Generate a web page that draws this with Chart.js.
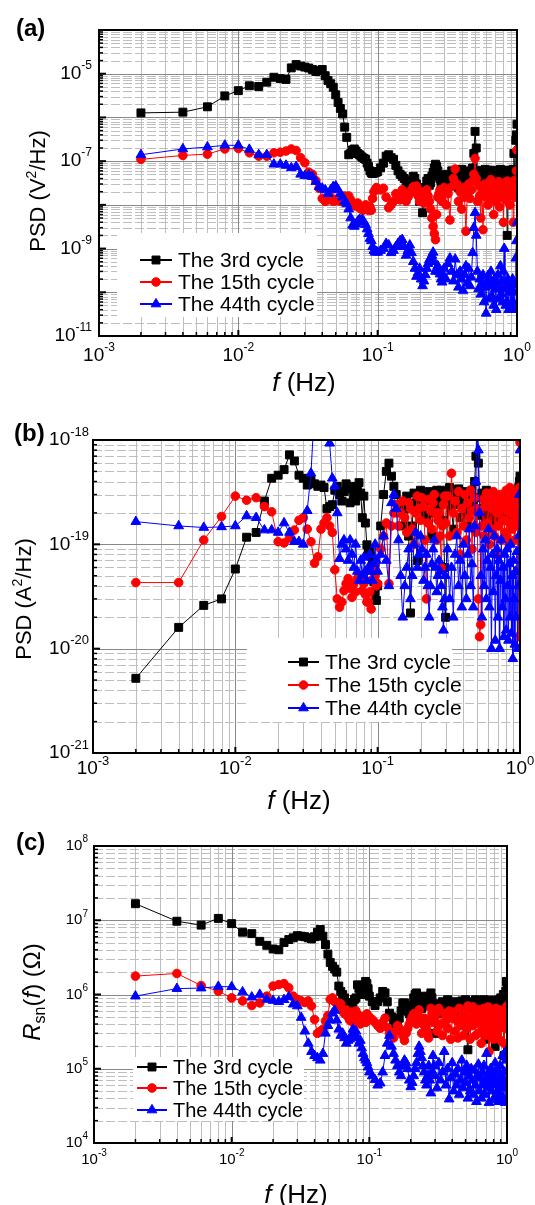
<!DOCTYPE html>
<html>
<head>
<meta charset="utf-8">
<script src="https://cdn.jsdelivr.net/npm/chart.js"></script>
<style>
  html, body { margin: 0; padding: 0; background: #fff; }
  body { position: relative; width: 535px; height: 1205px; overflow: hidden; }
  canvas { position: absolute; left: 0; top: 0; }
</style>
</head>
<body>
<canvas id="chartA" width="535" height="1205"></canvas>
<canvas id="chartB" width="535" height="1205"></canvas>
<canvas id="chartC" width="535" height="1205"></canvas>
<script>
// frequency points (Hz): 2 mHz steps up to 0.1 Hz, 5 mHz to 0.3 Hz, then 10 mHz
const freq = [
  0.002, 0.004, 0.006, 0.008, 0.010, 0.012, 0.014, 0.016, 0.018, 0.020,
  0.022, 0.024, 0.026, 0.028, 0.030, 0.032, 0.034, 0.036, 0.038, 0.040,
  0.042, 0.044, 0.046, 0.048, 0.050, 0.052, 0.054, 0.056, 0.058, 0.060,
  0.062, 0.064, 0.066, 0.068, 0.070, 0.072, 0.074, 0.076, 0.078, 0.080,
  0.082, 0.084, 0.086, 0.088, 0.090, 0.092, 0.094, 0.096, 0.098, 0.100,
  0.105, 0.110, 0.115, 0.120, 0.125, 0.130, 0.135, 0.140, 0.145, 0.150,
  0.155, 0.160, 0.165, 0.170, 0.175, 0.180, 0.185, 0.190, 0.195, 0.200,
  0.205, 0.210, 0.215, 0.220, 0.225, 0.230, 0.235, 0.240, 0.245, 0.250,
  0.255, 0.260, 0.265, 0.270, 0.275, 0.280, 0.285, 0.290, 0.295, 0.300,
  0.31, 0.32, 0.33, 0.34, 0.35, 0.36, 0.37, 0.38, 0.39, 0.40,
  0.41, 0.42, 0.43, 0.44, 0.45, 0.46, 0.47, 0.48, 0.49, 0.50,
  0.51, 0.52, 0.53, 0.54, 0.55, 0.56, 0.57, 0.58, 0.59, 0.60,
  0.61, 0.62, 0.63, 0.64, 0.65, 0.66, 0.67, 0.68, 0.69, 0.70,
  0.71, 0.72, 0.73, 0.74, 0.75, 0.76, 0.77, 0.78, 0.79, 0.80,
  0.81, 0.82, 0.83, 0.84, 0.85, 0.86, 0.87, 0.88, 0.89, 0.90,
  0.91, 0.92, 0.93, 0.94, 0.95, 0.96, 0.97, 0.98, 0.99, 1.00
];

const cycleNames = ["The 3rd cycle", "The 15th cycle", "The 44th cycle"];

// (a) voltage PSD, V^2/Hz
const psdV3 = [
  1.27e-6, 1.32e-6, 1.75e-6, 3.1e-6, 4.1e-6, 5.3e-6, 5.1e-6, 6.4e-6, 8.3e-6, 7.7e-6,
  7.4e-6, 1.36e-5, 1.62e-5, 1.5e-5, 1.42e-5, 1.35e-5, 1.25e-5, 1.12e-5, 1.18e-5, 1.25e-5,
  9.0e-6, 7.0e-6, 5.9e-6, 4.9e-6, 3.3e-6, 2.2e-6, 1.6e-6, 1.2e-6, 6.0e-7, 3.5e-7,
  1.4e-7, 1.5e-7, 1.8e-7, 1.9e-7, 1.7e-7, 1.5e-7, 1.4e-7, 1.3e-7, 1.2e-7, 1.15e-7,
  1.1e-7, 9.0e-8, 7.5e-8, 6.0e-8, 5.4e-8, 5.2e-8, 5.3e-8, 5.5e-8, 5.6e-8, 5.8e-8,
  7.0e-8, 9.0e-8, 1.3e-7, 1.4e-7, 1.2e-7, 1.1e-7, 8.0e-8, 6.0e-8, 5.0e-8, 4.5e-8,
  4.0e-8, 3.5e-8, 2.8e-8, 2.2e-8, 3.5e-8, 4.5e-8, 4.0e-8, 3.0e-8, 2.0e-8, 1.2e-8,
  2.0e-8, 6.6e-9, 1.5e-8, 2.5e-8, 3.5e-8, 4.0e-8, 2.8e-8, 3.2e-8, 4.5e-8, 5.5e-8,
  7.0e-8, 8.5e-8, 7.5e-8, 6.0e-8, 4.5e-8, 3.9e-8, 3.0e-8, 2.5e-8, 3.5e-8, 4.2e-8,
  5.0e-8, 3.0e-8, 4.5e-8, 6.0e-8, 3.5e-8, 5.5e-8, 4.0e-8, 2.5e-8, 5.0e-8, 6.5e-8,
  3.5e-8, 4.8e-8, 5.5e-8, 3.0e-8, 6.0e-8, 4.0e-8, 5.0e-8, 7.0e-8, 1.5e-7, 4.8e-7,
  2.0e-7, 6.0e-8, 4.5e-8, 5.5e-8, 3.5e-8, 6.0e-8, 4.5e-8, 5.0e-8, 6.5e-8, 4.0e-8,
  5.5e-8, 6.0e-8, 3.8e-8, 5.0e-8, 6.2e-8, 4.5e-8, 5.5e-8, 3.0e-8, 6.0e-8, 5.0e-8,
  4.2e-8, 5.8e-8, 6.0e-8, 3.5e-8, 5.0e-8, 6.5e-8, 4.5e-8, 5.5e-8, 3.0e-8, 6.0e-8,
  5.0e-8, 4.0e-8, 5.8e-8, 6.2e-8, 2.0e-9, 4.5e-8, 5.5e-8, 6.0e-8, 4.0e-8, 5.0e-8,
  6.0e-8, 5.5e-8, 4.5e-8, 6.5e-8, 1.5e-7, 6.0e-8, 5.0e-8, 3.0e-7, 4.0e-7, 7.0e-7
];
const psdV15 = [
  1.1e-7, 1.35e-7, 1.45e-7, 1.9e-7, 1.95e-7, 1.55e-7, 1.3e-7, 1.3e-7, 1.55e-7, 1.6e-7,
  1.7e-7, 1.9e-7, 1.75e-7, 1.2e-7, 9.2e-8, 5.6e-8, 5.0e-8, 3.6e-8, 2.4e-8, 1.4e-8,
  1.2e-8, 1.3e-8, 1.5e-8, 1.2e-8, 1.25e-8, 1.4e-8, 1.2e-8, 1.4e-8, 1.6e-8, 1.5e-8,
  1.6e-8, 1.3e-8, 1.1e-8, 9.5e-9, 9.5e-9, 1.1e-8, 8.5e-9, 9.0e-9, 7.5e-9, 8.5e-9,
  1.0e-8, 8.0e-9, 7.5e-9, 9.0e-9, 7.5e-9, 1.4e-8, 2.0e-8, 2.2e-8, 2.5e-8, 2.3e-8,
  2.2e-8, 2.4e-8, 1.5e-8, 8.6e-9, 1.0e-8, 1.2e-8, 1.8e-8, 1.6e-8, 1.3e-8, 2.2e-8,
  1.8e-8, 1.2e-8, 1.5e-8, 1.8e-8, 2.2e-8, 2.6e-8, 2.0e-8, 2.7e-8, 1.6e-8, 1.2e-8,
  1.8e-8, 2.0e-8, 1.1e-8, 1.5e-8, 2.2e-8, 1.6e-8, 1.2e-8, 8.0e-9, 5.0e-9, 3.2e-9,
  2.2e-9, 1.6e-9, 6.0e-9, 1.5e-8, 1.8e-8, 2.2e-8, 1.5e-8, 1.2e-8, 1.9e-8, 2.5e-8,
  1.0e-8, 1.8e-8, 4.5e-9, 2.6e-8, 4.0e-8, 6.6e-8, 3.0e-8, 1.2e-8, 2.0e-8, 8.0e-9,
  2.5e-8, 1.5e-8, 2.5e-9, 1.8e-8, 3.0e-8, 1.4e-8, 2.2e-8, 3.5e-8, 5.0e-8, 1.15e-7,
  4.0e-8, 1.2e-8, 2.8e-8, 1.6e-8, 5.0e-9, 2.4e-8, 2.7e-9, 1.8e-8, 3.0e-8, 1.5e-8,
  2.5e-8, 1.0e-8, 3.2e-8, 2.0e-8, 3.8e-8, 1.4e-8, 2.6e-8, 6.0e-9, 2.2e-8, 3.0e-8,
  1.2e-8, 2.8e-8, 1.8e-8, 3.4e-8, 9.0e-9, 2.4e-8, 3.0e-8, 1.5e-8, 2.6e-8, 4.0e-9,
  2.0e-8, 3.2e-8, 1.3e-8, 2.5e-8, 3.5e-8, 1.6e-8, 2.8e-8, 2.2e-8, 1.0e-8, 2.9e-8,
  1.8e-8, 3.3e-8, 2.3e-8, 4.0e-9, 2.6e-8, 3.6e-8, 1.5e-8, 3.0e-8, 6.0e-8, 1.8e-7
];
const psdV44 = [
  1.4e-7, 1.9e-7, 2.1e-7, 2.3e-7, 2.3e-7, 1.85e-7, 1.4e-7, 1.4e-7, 8.5e-8, 8.5e-8,
  8.0e-8, 7.0e-8, 7.5e-8, 5.0e-8, 4.6e-8, 4.8e-8, 4.4e-8, 3.4e-8, 2.6e-8, 2.4e-8,
  2.2e-8, 1.8e-8, 2.2e-8, 2.6e-8, 2.7e-8, 2.2e-8, 1.8e-8, 1.5e-8, 1.2e-8, 1.05e-8,
  8.0e-9, 5.0e-9, 3.4e-9, 3.2e-9, 3.6e-9, 4.2e-9, 4.6e-9, 4.4e-9, 4.5e-9, 4.0e-9,
  3.5e-9, 2.8e-9, 2.2e-9, 1.7e-9, 1.5e-9, 1.1e-9, 9.0e-10, 8.2e-10, 8.5e-10, 8.2e-10,
  9.0e-10, 1.0e-9, 1.3e-9, 1.2e-9, 8.0e-10, 9.0e-10, 1.1e-9, 1.3e-9, 1.5e-9, 1.6e-9,
  1.1e-9, 7.0e-10, 9.0e-10, 1.2e-9, 8.0e-10, 5.0e-10, 3.5e-10, 2.3e-10, 2.8e-10, 3.5e-10,
  2.0e-10, 1.4e-10, 1.8e-10, 2.5e-10, 3.5e-10, 4.5e-10, 5.5e-10, 6.0e-10, 7.0e-10, 8.2e-10,
  5.0e-10, 3.0e-10, 3.5e-10, 4.0e-10, 3.0e-10, 2.6e-10, 2.0e-10, 1.7e-10, 2.5e-10, 3.5e-10,
  2.0e-10, 4.5e-10, 6.0e-10, 3.0e-10, 1.8e-10, 5.7e-10, 2.5e-10, 1.3e-10, 3.0e-10, 2.0e-10,
  1.1e-10, 2.5e-10, 4.0e-10, 1.6e-10, 3.5e-10, 1.4e-10, 2.2e-10, 8.0e-10, 3.0e-9, 6.6e-9,
  2.0e-9, 3.0e-10, 1.2e-10, 2.0e-10, 9.0e-11, 1.6e-10, 2.5e-10, 6.0e-11, 1.3e-10, 3.3e-11,
  1.8e-10, 2.4e-10, 7.0e-11, 1.4e-10, 3.0e-10, 8.0e-11, 1.6e-10, 5.0e-11, 2.0e-10, 1.2e-10,
  4.0e-11, 1.5e-10, 2.5e-10, 7.0e-11, 1.3e-10, 4.0e-10, 9.0e-11, 1.8e-10, 6.0e-11, 3.0e-10,
  1.0e-9, 1.2e-10, 5.0e-11, 1.5e-10, 6.0e-11, 2.0e-10, 4.0e-11, 1.0e-10, 1.6e-10, 5.0e-11,
  1.2e-10, 4.5e-11, 2.0e-10, 6.0e-11, 1.0e-10, 4.0e-11, 1.5e-10, 6.0e-10, 1.5e-9, 4.0e-9
];

// (b) current PSD, A^2/Hz
const psdA3 = [
  5.2e-21, 1.6e-20, 2.6e-20, 3.0e-20, 5.8e-20, 1.17e-19, 1.3e-19, 2.6e-19, 4.3e-19, 4.6e-19,
  5.2e-19, 7.2e-19, 6.3e-19, 4.6e-19, 4.3e-19, 3.7e-19, 4.1e-19, 3.8e-19, 3.6e-19, 3.7e-19,
  3.5e-19, 2.2e-19, 2.3e-19, 2.4e-19, 3.3e-19, 3.6e-19, 3.0e-19, 2.6e-19, 3.2e-19, 3.8e-19,
  3.4e-19, 2.5e-19, 3.6e-19, 3.0e-19, 2.6e-19, 3.5e-19, 3.9e-19, 3.1e-19, 1.8e-19, 2.9e-19,
  1.6e-19, 9.9e-20, 8.5e-20, 9.0e-20, 7.7e-20, 6.5e-20, 4.4e-20, 3.5e-20, 2.9e-20, 4.0e-20,
  1.5e-19, 3.0e-19, 5.0e-19, 6.0e-19, 4.5e-19, 3.6e-19, 3.0e-19, 2.4e-19, 2.0e-19, 1.5e-19,
  2.2e-19, 2.9e-19, 1.2e-19, 2.2e-20, 1.5e-19, 3.1e-19, 2.5e-19, 7.0e-20, 2.2e-19, 3.3e-19,
  2.9e-19, 2.5e-19, 2.0e-19, 1.8e-19, 2.6e-19, 3.2e-19, 2.0e-19, 1.2e-19, 2.0e-19, 2.8e-19,
  3.0e-19, 3.3e-19, 2.4e-19, 1.9e-19, 2.8e-19, 3.3e-19, 2.5e-19, 1.7e-19, 6.0e-20, 2.0e-20,
  2.6e-19, 3.5e-19, 2.2e-19, 1.4e-19, 3.1e-19, 2.4e-19, 3.4e-19, 1.8e-19, 2.7e-19, 3.2e-19,
  2.0e-19, 2.9e-19, 1.5e-19, 3.0e-19, 2.3e-19, 3.3e-19, 2.6e-19, 4.0e-19, 7.0e-19, 1.5e-18,
  6.0e-19, 2.8e-19, 1.9e-19, 3.1e-19, 2.2e-19, 2.9e-19, 1.7e-19, 3.3e-19, 2.5e-19, 2.0e-19,
  3.0e-19, 2.4e-19, 1.6e-19, 2.8e-19, 2.2e-19, 2.6e-19, 1.9e-19, 2.5e-19, 2.1e-19, 2.7e-19,
  1.8e-19, 2.4e-19, 2.2e-19, 2.6e-19, 1.7e-19, 2.3e-19, 2.5e-19, 1.9e-19, 2.4e-19, 2.0e-19,
  2.6e-19, 1.8e-19, 2.3e-19, 2.1e-19, 2.5e-19, 1.7e-19, 2.2e-19, 2.4e-19, 1.9e-19, 2.6e-19,
  2.1e-19, 1.8e-19, 2.3e-19, 2.5e-19, 2.0e-19, 2.2e-19, 2.8e-19, 3.5e-19, 4.0e-19, 4.5e-19
];
const psdA15 = [
  4.3e-20, 4.3e-20, 1.1e-19, 1.85e-19, 2.9e-19, 2.65e-19, 2.8e-19, 2.3e-19, 2.05e-19, 1.06e-19,
  1.03e-19, 1.15e-19, 1.37e-19, 1.7e-19, 1.8e-19, 1.4e-19, 1.06e-19, 6.6e-20, 7.6e-20, 1.4e-19,
  1.6e-19, 1.8e-19, 1.5e-19, 1.3e-19, 5.7e-20, 3.0e-20, 2.5e-20, 2.8e-20, 3.6e-20, 4.2e-20,
  4.7e-20, 3.8e-20, 3.1e-20, 4.2e-20, 3.5e-20, 4.7e-20, 5.0e-20, 4.9e-20, 3.6e-20, 4.2e-20,
  3.3e-20, 2.8e-20, 2.8e-20, 3.5e-20, 2.4e-20, 4.6e-20, 6.1e-20, 5.0e-20, 4.0e-20, 4.2e-20,
  9.0e-20, 1.2e-19, 1.6e-19, 4.2e-20, 1.5e-19, 2.0e-19, 2.4e-19, 1.5e-19, 2.0e-19, 2.6e-19,
  1.8e-19, 1.3e-19, 2.5e-19, 2.2e-19, 1.4e-19, 1.0e-19, 2.0e-19, 2.9e-19, 2.2e-19, 1.7e-19,
  2.8e-19, 2.3e-19, 1.1e-19, 3.0e-20, 1.6e-19, 2.7e-19, 2.1e-19, 1.4e-19, 2.5e-19, 3.0e-19,
  2.0e-19, 1.1e-19, 1.7e-19, 2.0e-19, 1.2e-19, 6.0e-20, 1.5e-19, 2.4e-19, 2.9e-19, 1.6e-19,
  2.9e-19, 1.2e-19, 4.8e-19, 2.0e-19, 2.6e-19, 1.3e-19, 3.2e-19, 8.0e-20, 2.2e-19, 1.5e-19,
  3.0e-19, 1.1e-19, 2.5e-19, 1.8e-19, 3.3e-19, 9.0e-20, 2.1e-19, 2.8e-19, 1.3e-19, 2.2e-19,
  3.0e-20, 1.3e-20, 1.7e-20, 1.5e-19, 2.7e-19, 1.2e-19, 2.3e-19, 3.1e-19, 1.6e-19, 2.5e-19,
  1.0e-19, 2.9e-19, 1.4e-19, 2.2e-19, 3.2e-19, 1.2e-19, 2.6e-19, 8.0e-20, 2.0e-19, 2.8e-19,
  1.5e-19, 2.4e-19, 3.0e-19, 1.1e-19, 2.3e-19, 1.7e-19, 2.9e-19, 1.3e-19, 2.5e-19, 3.3e-19,
  1.2e-19, 2.1e-19, 2.7e-19, 1.0e-19, 3.5e-19, 1.6e-19, 2.4e-19, 1.4e-19, 3.1e-19, 1.9e-19,
  2.6e-19, 1.1e-19, 2.3e-19, 3.0e-19, 1.5e-19, 2.2e-19, 1.3e-20, 1.8e-19, 3.5e-19, 9.5e-19
];
const psdA44 = [
  1.65e-19, 1.5e-19, 1.45e-19, 1.47e-19, 1.5e-19, 1.87e-19, 1.8e-19, 1.37e-19, 1.37e-19, 1.3e-19,
  1.6e-19, 1.3e-19, 1.06e-19, 1.06e-19, 1.0e-19, 2.1e-19, 4.8e-19, 2.0e-18, 3.0e-18, 2.5e-18,
  2.0e-18, 1.5e-18, 9.3e-19, 4.3e-19, 3.6e-19, 2.0e-19, 7.3e-20, 1.0e-19, 1.1e-19, 9.0e-20,
  7.0e-20, 1.1e-19, 8.0e-20, 6.0e-20, 1.0e-19, 5.5e-20, 4.5e-20, 7.0e-20, 5.0e-20, 7.5e-20,
  5.5e-20, 4.5e-20, 6.0e-20, 8.0e-20, 5.5e-20, 4.5e-20, 6.5e-20, 1.0e-19, 7.0e-20, 5.5e-20,
  8.0e-20, 1.2e-19, 7.0e-20, 4.0e-20, 2.5e-19, 3.0e-19, 2.2e-19, 1.1e-19, 5.0e-20, 2.0e-20,
  4.0e-20, 6.0e-20, 9.0e-20, 3.0e-20, 5.0e-20, 1.0e-19, 1.3e-19, 6.0e-20, 8.0e-20, 1.2e-19,
  9.0e-20, 4.5e-20, 6.0e-20, 8.0e-20, 4.0e-20, 2.0e-20, 4.0e-20, 6.5e-20, 9.0e-20, 1.1e-19,
  6.0e-20, 3.5e-20, 5.0e-20, 7.0e-20, 5.5e-20, 4.0e-20, 2.5e-20, 1.5e-20, 3.0e-20, 5.0e-20,
  9.0e-20, 3.0e-20, 6.0e-20, 2.0e-20, 8.0e-20, 1.2e-19, 4.0e-20, 7.0e-20, 2.5e-20, 1.0e-19,
  5.0e-20, 3.0e-20, 8.0e-20, 1.4e-19, 4.0e-20, 6.5e-20, 2.5e-20, 1.5e-19, 4.0e-19, 1.5e-18,
  8.0e-19, 2.0e-19, 5.0e-20, 2.0e-20, 9.0e-20, 4.0e-20, 1.1e-19, 3.0e-20, 7.0e-20, 1.4e-19,
  2.5e-20, 6.0e-20, 1.0e-20, 8.0e-20, 3.5e-20, 1.2e-19, 1.2e-20, 5.0e-20, 9.0e-20, 2.0e-20,
  7.0e-20, 1.0e-20, 4.5e-20, 1.1e-19, 2.5e-20, 6.0e-20, 1.3e-20, 8.0e-20, 3.0e-20, 1.5e-20,
  9.0e-20, 4.0e-20, 1.2e-20, 6.5e-20, 2.0e-20, 1.0e-19, 1.4e-20, 5.0e-20, 8.0e-21, 7.0e-20,
  3.0e-20, 1.1e-20, 5.5e-20, 2.0e-20, 8.5e-20, 1.0e-20, 4.0e-20, 1.2e-19, 3.0e-19, 8.0e-19
];

// (c) noise resistance Rsn(f), ohm
const rsn3 = [
  1.67e7, 9.7e6, 8.6e6, 1.06e7, 9.0e6, 6.9e6, 6.6e6, 5.2e6, 4.6e6, 4.1e6,
  4.0e6, 5.0e6, 5.5e6, 5.8e6, 6.2e6, 6.1e6, 6.0e6, 5.8e6, 5.6e6, 6.0e6,
  6.9e6, 7.5e6, 6.1e6, 4.7e6, 3.5e6, 2.7e6, 2.4e6, 2.2e6, 2.0e6, 1.3e6,
  1.1e6, 1.0e6, 9.0e5, 7.8e5, 7.0e5, 6.5e5, 7.0e5, 7.5e5, 8.6e5, 9.0e5,
  1.35e6, 1.2e6, 1.1e6, 1.0e6, 1.1e6, 1.3e6, 1.5e6, 1.4e6, 1.2e6, 9.5e5,
  8.0e5, 7.1e5, 8.0e5, 9.0e5, 1.1e6, 1.05e6, 8.0e5, 5.6e5, 5.0e5, 4.5e5,
  4.0e5, 3.7e5, 4.8e5, 6.0e5, 7.7e5, 7.7e5, 7.0e5, 6.0e5, 5.5e5, 4.8e5,
  7.0e5, 9.0e5, 1.0e6, 1.05e6, 9.0e5, 8.0e5, 7.0e5, 6.5e5, 8.0e5, 9.5e5,
  8.0e5, 7.0e5, 7.5e5, 8.5e5, 9.5e5, 1.05e6, 9.0e5, 7.5e5, 5.0e5, 3.0e5,
  6.5e5, 7.5e5, 5.5e5, 8.0e5, 7.0e5, 6.0e5, 8.5e5, 5.0e5, 7.2e5, 6.5e5,
  8.0e5, 5.5e5, 7.0e5, 7.8e5, 4.5e5, 6.8e5, 8.2e5, 6.0e5, 7.5e5, 8.5e5,
  5.0e5, 1.8e5, 6.5e5, 7.8e5, 6.0e5, 8.0e5, 5.5e5, 7.0e5, 8.5e5, 6.2e5,
  4.8e5, 7.5e5, 8.2e5, 6.0e5, 7.0e5, 5.0e5, 7.8e5, 8.5e5, 6.5e5, 2.5e5,
  7.0e5, 8.0e5, 5.8e5, 7.5e5, 8.4e5, 6.2e5, 4.5e5, 7.6e5, 8.3e5, 6.0e5,
  7.2e5, 2.0e5, 6.8e5, 8.0e5, 7.0e5, 5.5e5, 8.5e5, 7.5e5, 6.5e5, 9.0e5,
  7.0e5, 8.0e5, 6.0e5, 1.0e6, 1.5e5, 7.8e5, 9.0e5, 1.1e6, 1.5e6, 1.3e6
];
const rsn15 = [
  1.77e6, 1.92e6, 1.32e6, 1.11e6, 9.0e5, 8.2e5, 7.1e5, 7.7e5, 9.5e5, 1.3e6,
  1.36e6, 1.4e6, 1.23e6, 9.5e5, 8.6e5, 8.2e5, 7.8e5, 8.2e5, 7.0e5, 4.6e5,
  3.0e5, 3.2e5, 3.4e5, 4.4e5, 5.2e5, 8.6e5, 9.0e5, 8.0e5, 7.8e5, 6.5e5,
  7.5e5, 6.0e5, 5.5e5, 6.2e5, 5.0e5, 4.5e5, 5.8e5, 4.2e5, 5.0e5, 6.0e5,
  4.6e5, 5.2e5, 4.0e5, 4.4e5, 5.0e5, 4.8e5, 4.2e5, 5.5e5, 4.5e5, 5.0e5,
  4.6e5, 4.2e5, 3.8e5, 3.5e5, 4.2e5, 4.8e5, 3.6e5, 3.0e5, 2.8e5, 2.6e5,
  3.2e5, 3.8e5, 3.5e5, 3.2e5, 2.8e5, 2.4e5, 3.0e5, 3.5e5, 4.0e5, 4.5e5,
  5.0e5, 5.5e5, 4.5e5, 4.0e5, 5.5e5, 6.2e5, 4.5e5, 3.0e5, 4.0e5, 4.8e5,
  4.0e5, 3.5e5, 3.0e5, 2.6e5, 4.5e5, 6.5e5, 5.5e5, 4.2e5, 4.8e5, 5.5e5,
  3.2e5, 6.5e5, 4.0e5, 2.8e5, 5.5e5, 4.5e5, 3.5e5, 6.0e5, 2.5e5, 4.8e5,
  5.8e5, 3.2e5, 4.5e5, 2.6e5, 6.5e5, 3.8e5, 5.0e5, 2.8e5, 4.2e5, 6.0e5,
  3.5e5, 7.0e5, 4.5e5, 2.5e5, 5.2e5, 3.8e5, 6.8e5, 4.0e5, 2.8e5, 5.5e5,
  4.2e5, 3.0e5, 6.2e5, 4.5e5, 2.2e5, 5.0e5, 3.6e5, 6.5e5, 4.0e5, 2.8e5,
  5.5e5, 3.4e5, 6.8e5, 1.7e5, 4.6e5, 5.8e5, 3.0e5, 6.0e5, 4.0e5, 2.5e5,
  5.2e5, 3.6e5, 6.5e5, 4.2e5, 2.8e5, 5.5e5, 3.4e5, 6.2e5, 4.5e5, 2.4e5,
  5.8e5, 3.8e5, 6.0e5, 4.0e5, 2.2e5, 5.5e5, 3.5e5, 6.5e5, 4.5e5, 7.0e5
];
const rsn44 = [
  9.5e5, 1.2e6, 1.22e6, 1.28e6, 1.27e6, 1.08e6, 9.2e5, 1.0e6, 8.6e5, 8.3e5,
  8.0e5, 8.5e5, 9.3e5, 7.4e5, 7.0e5, 4.9e5, 3.2e5, 2.2e5, 1.7e5, 1.5e5,
  1.4e5, 1.3e5, 1.6e5, 3.0e5, 3.8e5, 4.5e5, 5.6e5, 6.1e5, 4.5e5, 3.4e5,
  2.8e5, 3.0e5, 2.6e5, 2.2e5, 2.4e5, 2.5e5, 2.8e5, 3.4e5, 3.0e5, 3.2e5,
  2.6e5, 2.2e5, 2.4e5, 1.9e5, 1.6e5, 1.4e5, 1.3e5, 1.2e5, 1.05e5, 9.0e4,
  8.0e4, 7.1e4, 6.0e4, 6.4e4, 9.0e4, 1.5e5, 2.2e5, 2.8e5, 2.0e5, 1.6e5,
  1.3e5, 1.1e5, 9.0e4, 8.0e4, 1.1e5, 1.3e5, 1.2e5, 1.0e5, 7.0e4, 5.7e4,
  6.5e4, 8.0e4, 1.0e5, 1.2e5, 1.6e5, 2.0e5, 1.7e5, 1.4e5, 1.1e5, 9.0e4,
  7.0e4, 6.0e4, 8.0e4, 1.1e5, 7.0e4, 4.7e4, 9.0e4, 1.5e5, 1.1e5, 8.0e4,
  5.5e4, 1.2e5, 7.0e4, 9.0e4, 1.7e5, 6.0e4, 1.0e5, 3.9e4, 7.5e4, 1.2e5,
  5.0e4, 8.5e4, 6.0e4, 1.0e5, 4.5e4, 7.0e4, 1.3e5, 5.5e4, 9.0e4, 6.5e4,
  1.1e5, 4.0e4, 8.0e4, 5.0e4, 1.0e5, 7.0e4, 4.5e4, 9.5e4, 6.0e4, 3.6e4,
  8.0e4, 1.15e5, 5.0e4, 7.5e4, 4.0e4, 9.0e4, 6.0e4, 1.1e5, 4.5e4, 7.0e4,
  1.6e5, 5.5e4, 8.5e4, 3.5e4, 6.5e4, 1.0e5, 5.0e4, 7.5e4, 3.8e4, 9.0e4,
  6.0e4, 1.2e5, 4.2e4, 7.0e4, 5.0e4, 9.5e4, 3.6e4, 6.5e4, 1.1e5, 4.5e4,
  8.0e4, 5.5e4, 1.5e5, 4.0e4, 7.0e4, 9.0e4, 3.5e4, 6.0e4, 1.3e5, 1.8e5
];

// tick label exponents (10^n)
const xTickExps = [-3, -2, -1, 0];
const yTickExpsA = [-11, -9, -7, -5];
const yTickExpsB = [-21, -20, -19, -18];
const yTickExpsC = [4, 5, 6, 7, 8];

const FONT = '"Liberation Sans", Arial, Helvetica, sans-serif';
const colors = ["#000000", "#ff0000", "#0000ff"];
const markers = ["rect", "circle", "triangle"];
const radii = [5.6, 4.3, 5.6];

// 1..9 x 10^n ticks so every grid line of the log axes exists
function decadeTicks(min, max) {
  const out = [];
  const e0 = Math.floor(Math.log10(min) + 1e-9);
  const e1 = Math.ceil(Math.log10(max) - 1e-9);
  for (let e = e0; e <= e1; e++) {
    for (let m = 1; m <= 9; m++) {
      const v = parseFloat(m + "e" + e);
      if (v >= min * 0.999999 && v <= max * 1.000001) out.push({ value: v, major: m === 1 });
    }
  }
  return out;
}

function drawMarker(ctx, style, x, y, r, color) {
  ctx.fillStyle = color;
  ctx.strokeStyle = color;
  ctx.lineWidth = 1;
  ctx.setLineDash([]);
  ctx.beginPath();
  if (style === "rect") {
    const s = r * Math.SQRT1_2;
    ctx.rect(x - s, y - s, 2 * s, 2 * s);
  } else if (style === "triangle") {
    ctx.moveTo(x, y - r);
    ctx.lineTo(x + r * 0.866, y + r / 2);
    ctx.lineTo(x - r * 0.866, y + r / 2);
    ctx.closePath();
  } else {
    ctx.arc(x, y, r, 0, Math.PI * 2);
  }
  ctx.fill();
  ctx.stroke();
}

// text made of pieces (italic, super/subscript), centred at cx, cy
function drawRich(ctx, parts, cx, cy, size, rotate) {
  ctx.save();
  ctx.translate(cx, cy);
  if (rotate) ctx.rotate(-Math.PI / 2);
  ctx.fillStyle = "#000";
  ctx.textAlign = "left";
  ctx.textBaseline = "alphabetic";
  const fontOf = p => (p.italic ? "italic " : "") + Math.round(size * (p.scale || 1)) + "px " + FONT;
  let total = 0;
  const widths = parts.map(p => { ctx.font = fontOf(p); const w = ctx.measureText(p.text).width; total += w; return w; });
  let x = -total / 2;
  parts.forEach((p, i) => {
    ctx.font = fontOf(p);
    ctx.fillText(p.text, x, size * 0.36 + (p.dy || 0) * size);
    x += widths[i];
  });
  ctx.restore();
}

function drawPow(ctx, exp, x, y, align, baseSize, supSize) {
  ctx.font = baseSize + "px " + FONT;
  const wb = ctx.measureText("10").width;
  ctx.font = supSize + "px " + FONT;
  const ws = ctx.measureText(String(exp)).width;
  const left = align === "right" ? x - wb - ws : x - (wb + ws) / 2;
  ctx.textAlign = "left";
  ctx.textBaseline = "middle";
  ctx.fillStyle = "#000";
  ctx.font = baseSize + "px " + FONT;
  ctx.fillText("10", left, y);
  ctx.font = supSize + "px " + FONT;
  ctx.fillText(String(exp), left + wb, y - baseSize * 0.42);
}

function panelPlugin(p) {
  return {
    id: "panelDecor",
    beforeDatasetsDraw(chart) {
      const { ctx, chartArea: a } = chart;
      const sx = chart.scales.x, sy = chart.scales.y;
      ctx.save();
      ctx.lineWidth = 1;
      [false, true].forEach(major => {
        ctx.strokeStyle = major ? "#888888" : "#bebebe";
        ctx.setLineDash([]);
        sx.ticks.filter(t => t.major === major).forEach(t => {
          const px = Math.round(sx.getPixelForValue(t.value)) + 0.5;
          if (px < a.left + 1 || px > a.right - 1) return;
          ctx.beginPath(); ctx.moveTo(px, a.top); ctx.lineTo(px, a.bottom); ctx.stroke();
        });
        ctx.setLineDash(major ? [] : [9, 3]);
        sy.ticks.filter(t => t.major === major).forEach(t => {
          const py = Math.round(sy.getPixelForValue(t.value)) + 0.5;
          if (py < a.top + 1 || py > a.bottom - 1) return;
          ctx.beginPath(); ctx.moveTo(a.left, py); ctx.lineTo(a.right, py); ctx.stroke();
        });
      });
      ctx.setLineDash([]);

      // legend
      const lg = p.legend;
      ctx.fillStyle = "#fff";
      ctx.fillRect(lg.box[0], lg.box[1], lg.box[2] - lg.box[0], lg.box[3] - lg.box[1]);
      chart.data.datasets.forEach((ds, i) => {
        const y = lg.rows[i];
        ctx.strokeStyle = ds.borderColor;
        ctx.lineWidth = 2;
        ctx.beginPath(); ctx.moveTo(lg.line[0], y); ctx.lineTo(lg.line[1], y); ctx.stroke();
        drawMarker(ctx, ds.pointStyle, (lg.line[0] + lg.line[1]) / 2, y, ds.pointRadius, ds.borderColor);
        ctx.fillStyle = "#000";
        ctx.font = lg.size + "px " + FONT;
        ctx.textAlign = "left";
        ctx.textBaseline = "middle";
        ctx.fillText(ds.label, lg.textX, y + 1);
      });
      ctx.restore();
    },
    afterDraw(chart) {
      const { ctx, chartArea: a } = chart;
      const sx = chart.scales.x, sy = chart.scales.y;
      ctx.save();
      ctx.strokeStyle = "#000";
      ctx.setLineDash([]);
      // inward tick marks on left and bottom axes
      sy.ticks.forEach(t => {
        const py = sy.getPixelForValue(t.value);
        ctx.lineWidth = t.major ? 2 : 1.5;
        ctx.beginPath(); ctx.moveTo(a.left, py); ctx.lineTo(a.left + (t.major ? 7 : 4), py); ctx.stroke();
      });
      sx.ticks.forEach(t => {
        const px = sx.getPixelForValue(t.value);
        ctx.lineWidth = t.major ? 2 : 1.5;
        ctx.beginPath(); ctx.moveTo(px, a.bottom); ctx.lineTo(px, a.bottom - (t.major ? 6 : 4)); ctx.stroke();
      });
      // frame
      ctx.lineWidth = 2;
      ctx.strokeRect(a.left, a.top, a.right - a.left, a.bottom - a.top);

      // tick labels
      p.yLabels.forEach(e => {
        drawPow(ctx, e, a.left - p.yLabelGap, sy.getPixelForValue(parseFloat("1e" + e)), "right", p.tickSize, p.supSize);
      });
      xTickExps.forEach(e => {
        drawPow(ctx, e, sx.getPixelForValue(parseFloat("1e" + e)), a.bottom + p.xLabelDy, "center", p.tickSize, p.supSize);
      });

      // axis titles
      drawRich(ctx, p.yTitle.parts, p.yTitle.x, p.yTitle.y, p.yTitle.size, true);
      drawRich(ctx, [{ text: "f", italic: true }, { text: " (Hz)" }], p.xTitle.x, p.xTitle.y, p.xTitle.size, false);

      // panel tag
      ctx.fillStyle = "#000";
      ctx.font = "bold 24px " + FONT;
      ctx.textAlign = "left";
      ctx.textBaseline = "middle";
      ctx.fillText(p.tag.text, p.tag.x, p.tag.y);
      ctx.restore();
    }
  };
}

const panels = [
  {
    id: "chartA", series: [psdV3, psdV15, psdV44], yMin: 1e-11, yMax: 1e-4, yLabels: yTickExpsA,
    padding: { left: 99, right: 18, top: 30, bottom: 869 },
    tickSize: 19, supSize: 12, yLabelGap: 7, xLabelDy: 20,
    tag: { text: "(a)", x: 16, y: 29 },
    yTitle: { parts: [{ text: "PSD (V" }, { text: "2", scale: 0.62, dy: -0.42 }, { text: "/Hz)" }], x: 37, y: 191, size: 22 },
    xTitle: { x: 304, y: 382, size: 26 },
    legend: { box: [117, 233, 317, 317], rows: [260, 282, 304], line: [140, 172], textX: 178, size: 21 }
  },
  {
    id: "chartB", series: [psdA3, psdA15, psdA44], yMin: 1e-21, yMax: 1e-18, yLabels: yTickExpsB,
    padding: { left: 93, right: 15, top: 440, bottom: 452 },
    tickSize: 19, supSize: 13, yLabelGap: 4, xLabelDy: 16,
    tag: { text: "(b)", x: 14, y: 434 },
    yTitle: { parts: [{ text: "PSD (A" }, { text: "2", scale: 0.62, dy: -0.42 }, { text: "/Hz)" }], x: 23, y: 599, size: 22 },
    xTitle: { x: 299, y: 800, size: 26 },
    legend: { box: [247, 638, 452, 722], rows: [662, 685, 708], line: [288, 319], textX: 325, size: 21 }
  },
  {
    id: "chartC", series: [rsn3, rsn15, rsn44], yMin: 1e4, yMax: 1e8, yLabels: yTickExpsC,
    padding: { left: 94, right: 28, top: 846, bottom: 62 },
    tickSize: 15, supSize: 10, yLabelGap: 6, xLabelDy: 17,
    tag: { text: "(c)", x: 16, y: 843 },
    yTitle: { parts: [{ text: "R", italic: true }, { text: "sn", scale: 0.68, dy: 0.22 }, { text: "(" }, { text: "f", italic: true }, { text: ") (\u03a9)" }], x: 31, y: 992, size: 24 },
    xTitle: { x: 296, y: 1194, size: 26 },
    legend: { box: [133, 1057, 304, 1121], rows: [1067, 1088, 1110], line: [137, 167], textX: 173, size: 20 }
  }
];

panels.forEach(p => {
  new Chart(document.getElementById(p.id), {
    type: "line",
    data: {
      datasets: p.series.map((ys, i) => ({
        label: cycleNames[i],
        data: freq.map((f, k) => ({ x: f, y: ys[k] })),
        borderColor: colors[i],
        backgroundColor: colors[i],
        pointBackgroundColor: colors[i],
        pointBorderColor: colors[i],
        pointStyle: markers[i],
        pointRadius: radii[i],
        pointBorderWidth: 1,
        borderWidth: 1,
        tension: 0,
        fill: false,
        order: 3 - i
      }))
    },
    options: {
      responsive: false,
      devicePixelRatio: 1,
      animation: false,
      events: [],
      layout: { padding: p.padding },
      scales: {
        x: {
          type: "logarithmic", min: 1e-3, max: 1,
          grid: { display: false, drawTicks: false },
          border: { display: false },
          ticks: { display: false },
          afterBuildTicks: axis => { axis.ticks = decadeTicks(axis.min, axis.max); }
        },
        y: {
          type: "logarithmic", min: p.yMin, max: p.yMax,
          grid: { display: false, drawTicks: false },
          border: { display: false },
          ticks: { display: false },
          afterBuildTicks: axis => { axis.ticks = decadeTicks(axis.min, axis.max); }
        }
      },
      plugins: { legend: { display: false }, tooltip: { enabled: false } }
    },
    plugins: [panelPlugin(p)]
  });
});
</script>
</body>
</html>
